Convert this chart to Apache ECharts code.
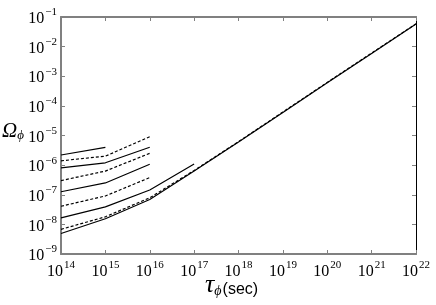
<!DOCTYPE html>
<html><head><meta charset="utf-8">
<script src="https://cdn.jsdelivr.net/npm/echarts@6/dist/echarts.min.js"></script>
<style>html,body{margin:0;padding:0;background:#fff}#c{width:436px;height:305px}</style>
</head><body><div id="c"></div>
<script>
// x positions (tau_phi in sec)
var xShort = [1e14, 1e15, 1e16];
var xS4 = [1e14, 1e15, 1e16, 1e17];
var xMain = [1e14, 1e15, 1e16, 1e17, 1e18, 1e19, 1e20, 1e21, 1e22];
// short curves (Omega_phi)
var s1 = [2.2e-6, 4.0e-6];
var d1 = [1.4e-6, 2.0e-6, 9.1e-6];
var s2 = [8.1e-7, 1.2e-6, 4.0e-6];
var d2 = [3.0e-7, 6.3e-7, 2.5e-6];
var s3 = [1.26e-7, 2.5e-7, 1.07e-6];
var d3 = [4.1e-8, 9.1e-8, 3.8e-7];
var s4 = [1.66e-8, 3.9e-8, 1.45e-7, 1.1e-6];
// long curves
var d4 = [6.8e-9, 1.8e-8, 7.9e-8, 6.6e-7, 6.2e-6, 6.2e-5, 6.2e-4, 6.1e-3, 5.9e-2];
var s5 = [4.9e-9, 1.55e-8, 6.9e-8, 6.3e-7, 6.0e-6, 6.0e-5, 6.0e-4, 5.9e-3, 5.75e-2];

function pairs(xs, ys) { return ys.map(function (v, i) { return [xs[i], v]; }); }
function expOf(v) { return Math.round(Math.log(v) / Math.LN10); }
var serif = '"Liberation Serif", "DejaVu Serif", serif';
var rich = {
  b: { fontFamily: serif, fontSize: 16, color: '#000', lineHeight: 20, verticalAlign: 'bottom' },
  s: { fontFamily: serif, fontSize: 11, color: '#000', lineHeight: 20, verticalAlign: 'top', padding: [0, 0, 0, 1] }
};
function fmt(v) { var e = expOf(v); return '{b|10}{s|' + (e < 0 ? '\u2212' + (-e) : e) + '}'; }

function ser(name, xs, ys, dashed) {
  return {
    name: name, type: 'line', data: pairs(xs, ys), symbol: 'none', silent: true,
    lineStyle: { color: '#000', width: 1.2, type: dashed ? [3, 2] : 'solid' }
  };
}
var chart = echarts.init(document.getElementById('c'));
var grid = { left: 61, right: 20, top: 17, bottom: 51 };
chart.setOption({
  animation: false,
  grid: grid,
  xAxis: [
    { type: 'log', logBase: 10, min: 1e14, max: 1e22, position: 'bottom',
      axisLine: { lineStyle: { color: '#808080', width: 2 } },
      axisTick: { inside: true, length: 4, lineStyle: { color: '#808080' } },
      minorTick: { show: false }, splitLine: { show: false },
      axisLabel: { formatter: fmt, rich: rich, margin: 6 } },
    { type: 'log', logBase: 10, min: 1e14, max: 1e22, position: 'top',
      axisLine: { lineStyle: { color: '#808080', width: 2 } },
      axisTick: { inside: true, length: 4, lineStyle: { color: '#808080' } },
      splitLine: { show: false }, axisLabel: { show: false } }
  ],
  yAxis: [
    { type: 'log', logBase: 10, min: 1e-9, max: 1e-1, position: 'left',
      axisLine: { lineStyle: { color: '#808080', width: 2 } },
      axisTick: { inside: true, length: 4, lineStyle: { color: '#808080' } },
      splitLine: { show: false },
      axisLabel: { formatter: fmt, rich: rich, margin: 4 } },
    { type: 'log', logBase: 10, min: 1e-9, max: 1e-1, position: 'right',
      axisLine: { lineStyle: { color: '#000', width: 1 } },
      axisTick: { inside: true, length: 4, lineStyle: { color: '#808080' } },
      splitLine: { show: false }, axisLabel: { show: false } }
  ],
  graphic: [
    { type: 'text', left: 2, top: 121, style: {
      text: '{o|\u03A9}{p|\u03D5}', rich: {
        o: { fontFamily: serif, fontStyle: 'italic', fontSize: 21, color: '#000', verticalAlign: 'bottom', lineHeight: 24 },
        p: { fontFamily: serif, fontStyle: 'italic', fontSize: 13, color: '#000', verticalAlign: 'bottom', lineHeight: 20 }
      } } },
    { type: 'text', left: 205, top: 272, style: {
      text: '{t|\u03C4}{p|\u03D5}{q|(sec)}', rich: {
        t: { fontFamily: serif, fontStyle: 'italic', fontSize: 26, color: '#000', verticalAlign: 'bottom', lineHeight: 26 },
        p: { fontFamily: serif, fontStyle: 'italic', fontSize: 14, color: '#000', verticalAlign: 'bottom', lineHeight: 22, padding: [0, 1, 0, 0] },
        q: { fontFamily: '"Liberation Sans", Arial, sans-serif', fontSize: 16, color: '#000', verticalAlign: 'bottom', lineHeight: 24 }
      } } }
  ],
  series: [
    ser('s1', xShort, s1, false),
    ser('d1', xShort, d1, true),
    ser('s2', xShort, s2, false),
    ser('d2', xShort, d2, true),
    ser('s3', xShort, s3, false),
    ser('d3', xShort, d3, true),
    ser('s4', xS4, s4, false),
    ser('d4', xMain, d4, true),
    ser('s5', xMain, s5, false)
  ]
});
</script></body></html>
